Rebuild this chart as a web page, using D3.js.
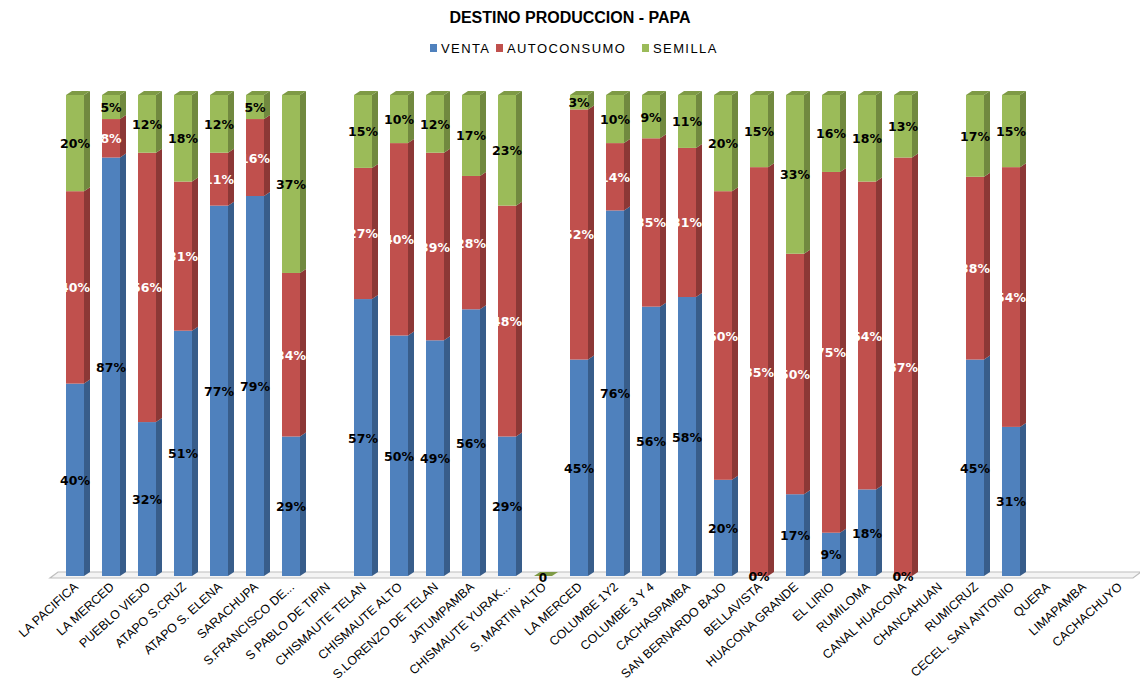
<!DOCTYPE html>
<html><head><meta charset="utf-8">
<script src="https://cdn.jsdelivr.net/npm/d3@7/dist/d3.min.js"></script>
<style>
body{margin:0;background:#fff;}
svg{display:block;}
</style></head>
<body>
<svg id="chart" width="1140" height="682"></svg>
<script>
const title = "DESTINO PRODUCCION - PAPA";
const categories = ["LA PACIFICA","LA MERCED","PUEBLO VIEJO","ATAPO S.CRUZ","ATAPO S. ELENA","SARACHUPA","S.FRANCISCO DE...","S PABLO DE TIPIN","CHISMAUTE TELAN","CHISMAUTE ALTO","S.LORENZO DE TELAN","JATUMPAMBA","CHISMAUTE YURAK...","S. MARTIN ALTO","LA MERCED ","COLUMBE 1Y2","COLUMBE 3 Y 4","CACHASPAMBA","SAN BERNARDO BAJO","BELLAVISTA","HUACONA GRANDE","EL LIRIO","RUMILOMA","CANAL HUACONA","CHANCAHUAN","RUMICRUZ","CECEL, SAN ANTONIO","QUERA","LIMAPAMBA","CACHACHUYO"];
const seriesNames = ["VENTA","AUTOCONSUMO","SEMILLA"];
const venta =       [40,87,32,51,77,79,29,null,57,50,49,56,29,0,45,76,56,58,20,0,17,9,18,0,null,45,31,null,null,null];
const autoconsumo = [40,8,56,31,11,16,34,null,27,40,39,28,48,0,52,14,35,31,60,85,50,75,64,87,null,38,54,null,null,null];
const semilla =     [20,5,12,18,12,5,37,null,15,10,12,17,23,0,3,10,9,11,20,15,33,16,18,13,null,17,15,null,null,null];

const colors = {front:["#4F81BD","#C0504D","#9BBB59"], side:["#385D8A","#8C3836","#71893F"], top:["#426EA3","#A54442","#7E9A45"]};
const labelColors = ["#000","#fff","#000"];

const svg = d3.select("#chart");
const DX = 6, DY = -4;
const x = d3.scaleBand().domain(categories.map((c,i)=>i)).range([57,1137]).paddingInner(0.5).paddingOuter(0.25);
const y = d3.scaleLinear().domain([0,1]).range([576,95]);

// title
svg.append("text").attr("x",570).attr("y",23).attr("text-anchor","middle")
  .attr("font-family","Arial,'Liberation Sans',sans-serif").attr("font-weight","bold").attr("font-size",16)
  .attr("fill","#000").text(title);

// legend
const legendX = [430,496,642];
seriesNames.forEach((s,i)=>{
  const g = svg.append("g").attr("transform",`translate(${legendX[i]},48)`);
  g.append("rect").attr("x",0).attr("y",-4).attr("width",7).attr("height",8).attr("fill",colors.front[i]);
  g.append("text").attr("x",11).attr("y",4.5).attr("font-family","Arial,'Liberation Sans',sans-serif")
    .attr("font-size",13).attr("letter-spacing",1.4).attr("fill","#000").text(s);
});

// floor
const fl = 50, fr = 1133, fy = 578;
svg.append("path").attr("d",`M${fl},${fy} L${fr},${fy} L${fr+8},${fy-6} L${fl+8},${fy-6} Z`)
  .attr("fill","#f4f4f4").attr("stroke","#bdbdbd").attr("stroke-width",1.2);

const series = [venta, autoconsumo, semilla];
const barsG = svg.append("g");
const labelsG = svg.append("g");

categories.forEach((c,i)=>{
  const vals = series.map(s=>s[i]);
  if (vals[0] === null) return;
  const total = d3.sum(vals);
  const x0 = x(i), w = x.bandwidth(), x1 = x0 + w, cx = x0 + w/2;
  if (total === 0) {
    const yb = y(0);
    barsG.append("path").attr("d",`M${x0},${yb} L${x1},${yb} L${x1+DX},${yb+DY} L${x0+DX},${yb+DY} Z`).attr("fill",colors.top[2]);
    labelsG.append("text").attr("x",cx).attr("y",yb+6).attr("text-anchor","middle").attr("font-family","'DejaVu Sans',Verdana,sans-serif")
      .attr("font-weight","bold").attr("font-size",12).attr("fill","#000").text("0");
    return;
  }
  let cum = 0;
  let lastTopIdx = -1;
  vals.forEach((v,k)=>{ if (v>0) lastTopIdx = k; });
  vals.forEach((v,k)=>{
    const f0 = cum/total, f1 = (cum+v)/total;
    cum += v;
    const yb = y(f0), yt = y(f1);
    if (v > 0) {
      barsG.append("rect").attr("x",x0).attr("y",yt).attr("width",w).attr("height",yb-yt).attr("fill",colors.front[k]);
      barsG.append("path").attr("d",`M${x1},${yb} L${x1+DX},${yb+DY} L${x1+DX},${yt+DY} L${x1},${yt} Z`).attr("fill",colors.side[k]);
      if (k === lastTopIdx) {
        barsG.append("path").attr("d",`M${x0},${yt} L${x1},${yt} L${x1+DX},${yt+DY} L${x0+DX},${yt+DY} Z`).attr("fill",colors.top[k]);
      }
    }
    labelsG.append("text").attr("x",cx).attr("y",(yb+yt)/2 + 5).attr("text-anchor","middle")
      .attr("font-family","'DejaVu Sans',Verdana,sans-serif").attr("font-weight","bold").attr("font-size",12.5)
      .attr("fill",labelColors[k]).text(v + "%");
  });
});

// category axis labels
const axisG = svg.append("g");
categories.forEach((c,i)=>{
  const cx = x(i) + x.bandwidth()/2;
  axisG.append("text").attr("transform",`translate(${cx+4},588) rotate(-42)`).attr("text-anchor","end")
    .attr("font-family","Arial,'Liberation Sans',sans-serif").attr("font-size",12.5)
    .attr("fill","#000").text(c.trim());
});
</script>
</body></html>
